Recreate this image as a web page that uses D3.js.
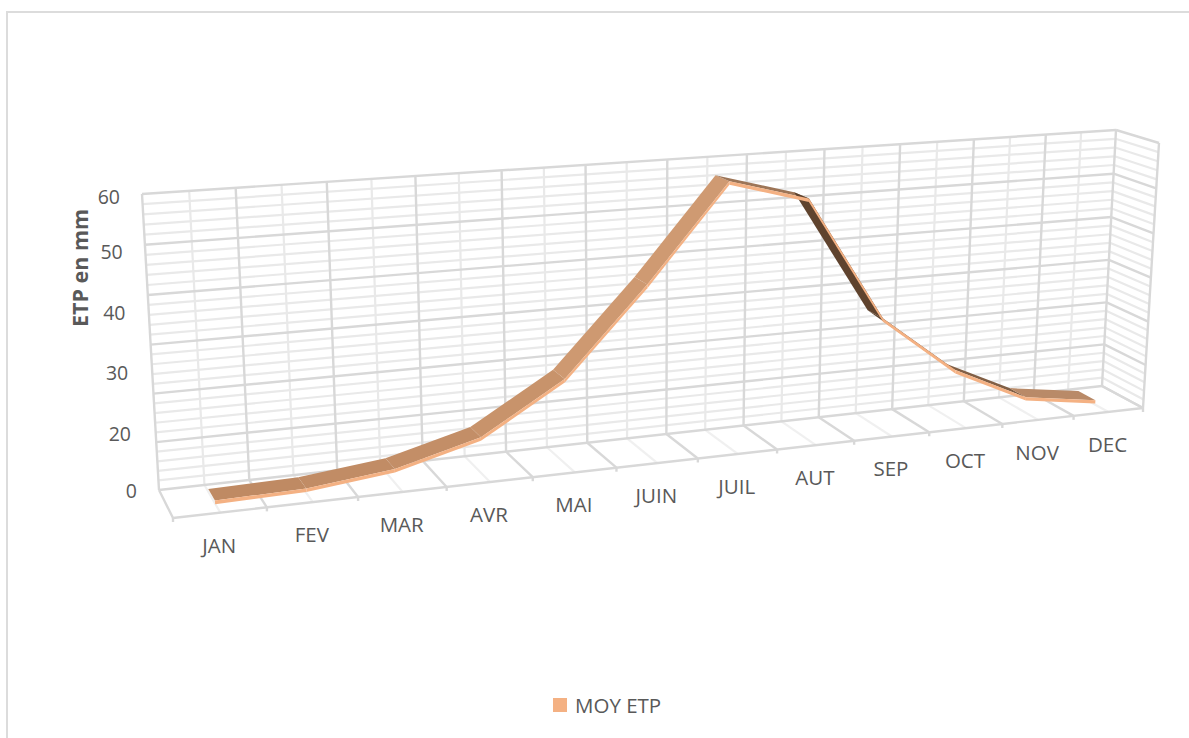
<!DOCTYPE html>
<html>
<head>
<meta charset="utf-8">
<script src="https://cdn.jsdelivr.net/npm/d3@7"></script>
<style>
body { margin: 0; background: #fff; }
text { font-family: "Open Sans", sans-serif; fill: #595959; }
</style>
</head>
<body>
<svg id="chart" width="1189" height="738"></svg>
<script>
var months = ["JAN", "FEV", "MAR", "AVR", "MAI", "JUIN", "JUIL", "AUT", "SEP", "OCT", "NOV", "DEC"];
var etp = [0.6, 1, 3, 7.7, 18.2, 36.5, 56.8, 52, 24.7, 11.5, 3.5, 1];
var yTicks = [0, 10, 20, 30, 40, 50, 60];
var yMinor = d3.range(0, 61, 2);
var yLabels = ["60", "50", "40", "30", "20", "0"];
var seriesName = "MOY ETP";

var svg = d3.select("#chart");

// corners of the 3d box, as seen on screen
var backWall = [[142, 194], [1116, 130], [1102, 386], [159, 490]];
var frontWall = [[154, 208], [1159, 143], [1143, 408], [173, 518]];

// unit square -> quad
function quadMap(q) {
	var dx1 = q[1][0] - q[2][0], dx2 = q[3][0] - q[2][0], sx = q[0][0] - q[1][0] + q[2][0] - q[3][0];
	var dy1 = q[1][1] - q[2][1], dy2 = q[3][1] - q[2][1], sy = q[0][1] - q[1][1] + q[2][1] - q[3][1];
	var det = dx1 * dy2 - dx2 * dy1;
	var g = (sx * dy2 - dx2 * sy) / det;
	var h = (dx1 * sy - sx * dy1) / det;
	var a = q[1][0] - q[0][0] + g * q[1][0], b = q[3][0] - q[0][0] + h * q[3][0];
	var d = q[1][1] - q[0][1] + g * q[1][1], e = q[3][1] - q[0][1] + h * q[3][1];
	return function(s, t) {
		var n = g * s + h * t + 1;
		return [(a * s + b * t + q[0][0]) / n, (d * s + e * t + q[0][1]) / n];
	};
}
var mapBack = quadMap(backWall), mapFront = quadMap(frontWall);

var xScale = d3.scaleLinear().domain([0, months.length]).range([0, 1]);
var yScale = d3.scaleLinear().domain([0, 60]).range([1, 0]);

// u = category position, v = value, w = depth (0 front, 1 back)
function project(u, v, w) {
	var b = mapBack(xScale(u), yScale(v)), f = mapFront(xScale(u), yScale(v));
	return [f[0] + (b[0] - f[0]) * w, f[1] + (b[1] - f[1]) * w];
}

var gridG = svg.append("g").attr("fill", "none");
function gridLine(a, b, color, width) {
	gridG.append("line")
		.attr("x1", a[0]).attr("y1", a[1])
		.attr("x2", b[0]).attr("y2", b[1])
		.attr("stroke", color).attr("stroke-width", width);
}
var minorColor = "#e9e9e9", majorColor = "#d8d8d8";
var nMonths = months.length;

// frame
svg.append("path").attr("d", "M7,738V12H1189").attr("fill", "none").attr("stroke", "#dcdcdc").attr("stroke-width", 2);

// minor lines first
yMinor.forEach(function(v) {
	if (yTicks.indexOf(v) >= 0) return;
	gridLine(project(0, v, 1), project(nMonths, v, 1), minorColor, 2.2);
	gridLine(project(nMonths, v, 1), project(nMonths, v, 0), minorColor, 2.2);
});
months.forEach(function(m, i) {
	gridLine(project(i + 0.5, 0, 1), project(i + 0.5, 60, 1), minorColor, 2.2);
	gridLine(project(i + 0.5, 0, 1), project(i + 0.5, 0, 0), "#f0f0f0", 2.2);
});
// major lines
yTicks.forEach(function(v) {
	gridLine(project(0, v, 1), project(nMonths, v, 1), majorColor, 2.4);
	gridLine(project(nMonths, v, 1), project(nMonths, v, 0), majorColor, 2.4);
});
d3.range(0, nMonths + 1).forEach(function(i) {
	gridLine(project(i, 0, 1), project(i, 60, 1), majorColor, 2.4);
	gridLine(project(i, 0, 1), project(i, 0, 0), majorColor, 2.4);
	var t = project(i, 0, 0);
	gridLine(t, [t[0], t[1] + 4], majorColor, 2.4);
});
gridLine(project(0, 0, 0), project(nMonths, 0, 0), majorColor, 2.4);
gridLine(project(nMonths, 0, 0), project(nMonths, 60, 0), majorColor, 2.4);

// ribbon
var wFront = 0.33, wBack = 0.75, thick = 0.75;
var topShade = d3.scaleLinear()
	.domain([-28, -13, -6, -2.5, 0, 10, 20])
	.range(["#5f432e", "#5f432e", "#8f6a4e", "#b98a68", "#bf8a63", "#c8936b", "#cf9a72"]);
var line = d3.line();
var ribbon = svg.append("g");
d3.pairs(etp).forEach(function(p, i) {
	var u0 = i + 0.5, u1 = i + 1.5;
	ribbon.append("path")
		.attr("d", line([project(u0, p[0], wBack), project(u1, p[1], wBack), project(u1, p[1], wFront), project(u0, p[0], wFront)]) + "Z")
		.attr("fill", topShade(p[1] - p[0]));
});
d3.pairs(etp).forEach(function(p, i) {
	var u0 = i + 0.5, u1 = i + 1.5;
	ribbon.append("path")
		.attr("d", line([project(u0, p[0], wFront), project(u1, p[1], wFront), project(u1, p[1] - thick, wFront), project(u0, p[0] - thick, wFront)]) + "Z")
		.attr("fill", "#f4b183");
});

// category labels
svg.append("g").selectAll("text").data(months).join("text")
	.attr("x", function(d, i) { return project(i + 0.5, 0, 0)[0] - 1; })
	.attr("y", function(d, i) { return project(i + 0.5, 0, 0)[1] + 40; })
	.attr("text-anchor", "middle")
	.attr("font-size", 20.5)
	.text(function(d) { return d; });

// value labels, the 10 is not shown on the original axis
var labelY = d3.scaleLinear().domain([60, 50, 20, 0]).range([197, 252, 434, 491]);
var labelX = d3.scaleLinear().domain([60, 20, 0]).range([120, 131, 137]);
svg.append("g").selectAll("text").data(yLabels).join("text")
	.attr("x", function(d) { return labelX(+d); })
	.attr("y", function(d) { return labelY(+d) + 7; })
	.attr("text-anchor", "end")
	.attr("font-size", 19.5)
	.text(function(d) { return d; });

svg.append("text")
	.attr("transform", "translate(88,268) rotate(-90)")
	.attr("text-anchor", "middle")
	.attr("font-size", 21.5)
	.attr("font-weight", "bold")
	.text("ETP en mm");

// legend
svg.append("rect").attr("x", 553).attr("y", 698).attr("width", 14).attr("height", 14).attr("fill", "#f4b183");
svg.append("text").attr("x", 575).attr("y", 713).attr("font-size", 20.5).text(seriesName);
</script>
</body>
</html>
